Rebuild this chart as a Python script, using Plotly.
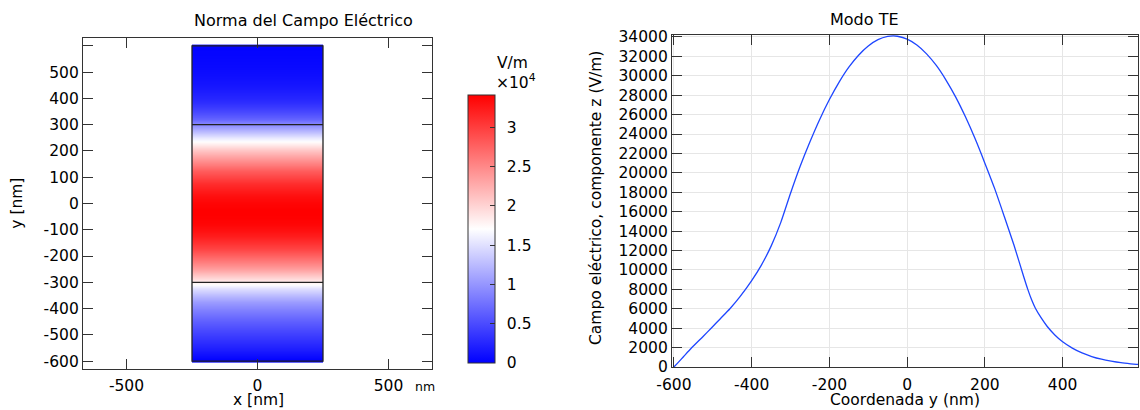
import plotly.graph_objects as go

W, H = 1140, 410

# Ez (TE mode) profile across the slab: position in nm, field in V/m
y_nm = [-600, -590, -575, -555, -525, -503, -480, -456, -430, -400,
        -375, -350, -325, -300, -275, -250, -225, -200, -175, -150,
        -125, -100, -75, -50, -36, -25, 0, 25, 50, 75,
        100, 125, 150, 175, 200, 225, 250, 275, 300, 310,
        320, 330, 345, 360, 380, 400, 425, 450, 475, 500,
        525, 550, 575, 590, 600]
ez = [0, 430, 1080, 1950, 3150, 4050, 5000, 6000, 7250, 8900,
      10500, 12450, 14900, 17900, 20700, 23200, 25500, 27550, 29350, 30890,
      32120, 33070, 33720, 34050, 34100, 34070, 33780, 33170, 32260, 31060,
      29560, 27800, 25770, 23500, 21000, 18400, 15500, 12540, 9300, 8050,
      6950, 6050, 5050, 4200, 3300, 2600, 1950, 1450, 1080, 800,
      600, 440, 330, 275, 245]

# geometry of the waveguide cross-section (nm)
slab_half_width = 250
domain_half_height = 600
core_half_height = 300

# tick labels
map_x_ticks = [-500, 0, 500]
map_x_text = ["-500", "0", "500"]
map_y_ticks = list(range(-600, 501, 100))
map_y_text = [str(v) for v in map_y_ticks]
map_y_minor = [600]
cb_ticks = [0, 5000, 10000, 15000, 20000, 25000, 30000]
cb_text = ["0", "0.5", "1", "1.5", "2", "2.5", "3"]
line_x_ticks = [-600, -400, -200, 0, 200, 400]
line_x_text = ["-600", "-400", "-200", "0", "200", "400"]
line_y_ticks = list(range(0, 34001, 2000))
line_y_text = [str(v) for v in line_y_ticks]

FONT = "DejaVu Sans"
AX = "#333333"


def px(x):
    return x / W


def py(y):
    return 1 - y / H


fig = go.Figure()

fig.add_trace(go.Heatmap(
    x=[-slab_half_width, 0, slab_half_width],
    y=y_nm,
    z=[[v, v] for v in ez],
    zsmooth="best",
    zmin=0, zmax=max(ez),
    colorscale=[[0, "rgb(0,0,255)"], [0.5, "rgb(255,255,255)"], [1, "rgb(255,0,0)"]],
    hoverinfo="skip",
    xaxis="x", yaxis="y",
    colorbar=dict(
        x=px(468), xanchor="left", xpad=0,
        y=py(229), yanchor="middle", ypad=0,
        len=(363 - 95) / H, lenmode="fraction",
        thickness=27, thicknessmode="pixels",
        outlinecolor=AX, outlinewidth=1,
        # en space keeps the labels clear of the bar
        tickvals=cb_ticks, ticktext=["\u2002" + t for t in cb_text],
        ticks="inside", ticklen=5, tickcolor=AX,
        tickfont=dict(family=FONT, size=15.5, color="black"),
    ),
))

fig.add_trace(go.Scatter(
    x=y_nm, y=ez, mode="lines",
    line=dict(color="rgb(30,70,255)", width=1.3, shape="spline", smoothing=0.6),
    xaxis="x2", yaxis="y2", showlegend=False, hoverinfo="skip",
))

tickfont = dict(family=FONT, size=15.5, color="black")
common = dict(showline=True, linecolor=AX, linewidth=1.2, mirror="ticks",
              ticks="inside", ticklen=10, tickcolor=AX, tickwidth=1.2,
              zeroline=False, tickfont=tickfont, fixedrange=True, automargin=False)

fig.update_layout(
    template="none",
    width=W, height=H, autosize=False,
    margin=dict(l=0, r=0, t=0, b=0, pad=0),
    paper_bgcolor="white", plot_bgcolor="white",
    showlegend=False,
    xaxis=dict(domain=[px(83), px(432)], range=[-666, 666], anchor="y",
               tickvals=map_x_ticks, ticktext=map_x_text, showgrid=False,
               ticklabelstandoff=3, **common),
    yaxis=dict(domain=[py(368.7), py(38.3)], range=[-629, 629], anchor="x",
               tickvals=map_y_ticks, ticktext=map_y_text, showgrid=False,
               minor=dict(tickvals=map_y_minor, ticks="inside", ticklen=10,
                          tickcolor=AX, tickwidth=1.2, showgrid=False),
               **common),
    xaxis2=dict(domain=[px(672), px(1138)], range=[-605, 594], anchor="y2",
                tickvals=line_x_ticks, ticktext=line_x_text, ticklabelstandoff=3,
                showgrid=True, gridcolor="#e6e6e6", gridwidth=1, **common),
    yaxis2=dict(domain=[py(367), py(35)], range=[0, 34200], anchor="x2",
                tickvals=line_y_ticks, ticktext=line_y_text,
                showgrid=True, gridcolor="#e6e6e6", gridwidth=1, **common),
)

# slab outline and core/cladding interfaces
line_style = dict(color="#222222", width=1.3)
fig.add_shape(type="rect", xref="x", yref="y",
              x0=-slab_half_width, x1=slab_half_width,
              y0=-domain_half_height, y1=domain_half_height,
              line=line_style, fillcolor="rgba(0,0,0,0)", layer="above")
for yi in (-core_half_height, core_half_height):
    fig.add_shape(type="line", xref="x", yref="y",
                  x0=-slab_half_width, x1=slab_half_width, y0=yi, y1=yi,
                  line=line_style, layer="above")


def note(text, x, y, size=16, angle=0, xanchor="center"):
    fig.add_annotation(text=text, x=px(x), y=py(y), xref="paper", yref="paper",
                       showarrow=False, textangle=angle, xanchor=xanchor, yanchor="middle",
                       font=dict(family=FONT, size=size, color="black"))


note("Norma del Campo Eléctrico", 303.5, 20.5)
note("Modo TE", 864, 19.5)
note("y [nm]", 16.7, 203, size=15.5, angle=-90)
note("x [nm]", 258, 399.5, size=15.5)
note("nm", 425, 386.5, size=12.5)
note("V/m", 495, 62.5, size=15.5, xanchor="left")
note("×10<sup>4</sup>", 494, 81.5, size=15.5, xanchor="left")
note("Coordenada y (nm)", 905, 399.5, size=15.5)
note("Campo eléctrico, componente z (V/m)", 596, 198, size=15.5, angle=-90)

fig.write_html("out.html")
